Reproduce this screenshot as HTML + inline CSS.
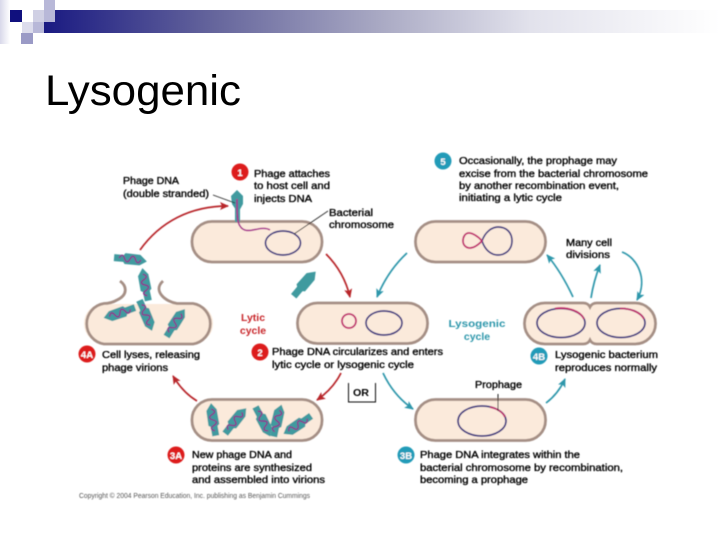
<!DOCTYPE html>
<html><head><meta charset="utf-8"><title>Lysogenic</title>
<style>
html,body{margin:0;padding:0;background:#fff;width:720px;height:540px;overflow:hidden}
svg{display:block}
text{font-family:"Liberation Sans",sans-serif}
.t text{font-size:10.5px;fill:#000;stroke:#000;stroke-width:.36}
</style></head>
<body>
<svg width="720" height="540" viewBox="0 0 720 540" xmlns="http://www.w3.org/2000/svg">
<defs>
<linearGradient id="bar" x1="0" x2="1" y1="0" y2="0">
<stop offset="0" stop-color="#1a1a82"/><stop offset=".25" stop-color="#65659c"/><stop offset=".5" stop-color="#aaaac4"/><stop offset=".72" stop-color="#e2e2ec"/><stop offset="1" stop-color="#ffffff"/>
</linearGradient>
<linearGradient id="pale" x1="0" x2="1" y1="0" y2="0"><stop offset="0" stop-color="#d8d8ea"/><stop offset="1" stop-color="#ffffff"/></linearGradient>
<filter id="soft" x="-2%" y="-2%" width="104%" height="104%"><feGaussianBlur stdDeviation=".4"/></filter>
<g id="ph">
<path d="M-3.500 2 L3.500 2 L3.500 16 L-3.500 16Z" fill="#3f9a9f"/>
<path d="M1 -17 L5.500 -10 L5.500 5 L0 9 L-5.500 5 L-5 -10Z" fill="#3f9a9f"/>
</g>
<path id="sq" d="M0 -11 q6 3 0 5.500 q-6 2.500 0 5.500 q6 2.500 0 5.500 q-6 2.500 0 5.500" fill="none" stroke="#8e2a8e" stroke-width="1.400"/>
<marker id="r" markerWidth="10" markerHeight="9" refX="8" refY="4" orient="auto" markerUnits="userSpaceOnUse"><path d="M0 0 L9 4 L0 8 L2 4Z" fill="#b8262c"/></marker>
<marker id="b" markerWidth="10" markerHeight="9" refX="8" refY="4" orient="auto" markerUnits="userSpaceOnUse"><path d="M0 0 L9 4 L0 8 L2 4Z" fill="#2f97ab"/></marker>
</defs>

<!-- header -->
<rect x="0" y="0" width="10" height="44" fill="url(#pale)"/>
<rect x="44" y="10" width="676" height="23" fill="url(#bar)"/>
<rect x="10" y="10" width="12" height="12" fill="#10107e"/>
<rect x="33" y="10" width="11" height="12" fill="#d0d0e4"/>
<rect x="44" y="0" width="11" height="22" fill="#b8b8d8"/>
<rect x="22" y="22" width="11" height="11" fill="#dcdcec"/>
<rect x="33" y="22" width="11" height="11" fill="#b8b8d8"/>
<rect x="21" y="33" width="12" height="11" fill="#9a9ac6"/>
<text x="45" y="105" font-size="42.500" fill="#000" textLength="196" lengthAdjust="spacingAndGlyphs">Lysogenic</text>

<g filter="url(#soft)">
<!-- cells -->
<g fill="#fbeadb" stroke="#a58f85" stroke-width="2.800">
<rect x="192" y="221.500" width="130" height="40.500" rx="20"/>
<rect x="415.500" y="221.500" width="130" height="40.500" rx="20"/>
<rect x="297.500" y="303" width="130" height="40.500" rx="20"/>
<rect x="192" y="399.500" width="130" height="41" rx="20"/>
<rect x="415.500" y="399.500" width="130" height="41" rx="20"/>
<path d="M545 303 L583 303 Q588 303 590 307 Q592 303 597 303 L635 303 A20.500 20.500 0 0 1 635 344 L597 344 Q592 344 590 340 Q588 344 583 344 L545 344 A20.500 20.500 0 0 1 545 303Z"/>
</g>
<rect x="84" y="304" width="129" height="39" rx="19" fill="#fbeadb"/>
<path d="M120 281 C127 286,128 295,117 300 C112 303,108 303.500,104 303.500 A20.500 20.500 0 0 0 104 344 L193 344 A20.500 20.500 0 0 0 193 303.500 L177 303.500 C166 302,152 291,163 281" fill="none" stroke="#a58f85" stroke-width="2.800"/>

<!-- chromosomes -->
<g fill="none" stroke="#3c3580" stroke-width="1.700">
<ellipse cx="283" cy="243" rx="17.500" ry="12"/>
<ellipse cx="384" cy="323" rx="18" ry="12"/>
<path d="M482 241 C485 232,492 227,498 227 C507 227,512 233,512 241 C512 250,505 255,498 255 C491 255,485 250,482 241Z"/>
<ellipse cx="561" cy="323" rx="24" ry="14.500"/>
<ellipse cx="621" cy="323" rx="24" ry="14.500"/>
<ellipse cx="482" cy="421" rx="24" ry="15"/>
</g>
<g fill="none" stroke="#c0246e" stroke-width="1.800">
<circle cx="349" cy="321" r="7"/>
<path d="M482 241 C478 236,472 233,469 233 C465 233,463 237,463 241 C463 245,466 248,470 248 C474 248,478 245,482 241"/>
<path d="M555 308.500 A24 14.500 0 0 1 584 319"/>
<path d="M620 308.500 A24 14.500 0 0 1 644 319"/>
<path d="M490 407 A24 15 0 0 1 505 417"/>
</g>
<path d="M498 394 L498 411" stroke="#222" stroke-width="1" fill="none"/>

<!-- attached phage -->
<path d="M235 208 h5 v14 h-5z" fill="#3f9a9f"/>
<path d="M237 190 L243 196 L243 204 L238 213 L232 204 L231 196Z" fill="#3f9a9f"/>
<path d="M237 199 C237 212,237 222,240 226 C244 233,252 230,258 229 C263 228,267 228,270 230" fill="none" stroke="#a8288e" stroke-width="1.600"/>

<!-- free phages -->
<g transform="translate(130 259) rotate(95)"><use href="#ph"/><use href="#sq"/></g>
<g transform="translate(145 285) rotate(-12)"><use href="#ph"/><use href="#sq"/></g>
<g transform="translate(120 313) rotate(-110)"><use href="#ph"/><use href="#sq"/></g>
<g transform="translate(146 315) rotate(156)"><use href="#ph"/><use href="#sq"/></g>
<g transform="translate(175 323) rotate(32)"><use href="#ph"/><use href="#sq"/></g>
<g transform="translate(304 284) rotate(40)"><use href="#ph"/></g>
<g transform="translate(213 420) rotate(-10)"><use href="#ph"/><use href="#sq"/></g>
<g transform="translate(235 421) rotate(38)"><use href="#ph"/><use href="#sq"/></g>
<g transform="translate(263 421) rotate(152)"><use href="#ph"/><use href="#sq"/></g>
<g transform="translate(277 421) rotate(12)"><use href="#ph"/><use href="#sq"/></g>
<g transform="translate(298 425) rotate(-125)"><use href="#ph"/><use href="#sq"/></g>

<!-- arrows -->
<g fill="none" stroke="#b8262c" stroke-width="1.700">
<path d="M140 250 C160 222,190 206,228 206" marker-end="url(#r)"/>
<path d="M326 254 C338 266,346 280,350 297" marker-end="url(#r)"/>
<path d="M197 401 C187 395,179 386,173 376" marker-end="url(#r)"/>
<path d="M341 373 C335 385,327 393,317 400" marker-end="url(#r)"/>
</g>
<g fill="none" stroke="#2f97ab" stroke-width="1.700">
<path d="M407 253 C393 266,384 280,377 297" marker-end="url(#b)"/>
<path d="M573 297 C566 282,558 268,547 255" marker-end="url(#b)"/>
<path d="M591 298 C593 285,596 275,600 265" marker-end="url(#b)"/>
<path d="M622 252 C638 258,648 280,637 300" marker-end="url(#b)"/>
<path d="M383 373 C390 388,400 400,413 409" marker-end="url(#b)"/>
<path d="M546 403 C554 397,560 390,565 379" marker-end="url(#b)"/>
</g>

<!-- pointers -->
<path d="M213 195 L235 203" stroke="#222" stroke-width=".8" fill="none"/>
<path d="M328 211 L294 234" stroke="#222" stroke-width=".8" fill="none"/>

<!-- OR -->
<path d="M348.500 383 V402 H375.500 V383" fill="none" stroke="#111" stroke-width="1"/>
<text x="353" y="396" font-size="10" font-weight="bold" fill="#000" textLength="16" lengthAdjust="spacingAndGlyphs">OR</text>

<!-- badges -->
<g fill="#dd1f1f">
<circle cx="240" cy="172" r="8.500"/><circle cx="87" cy="354" r="8.500"/><circle cx="260" cy="352" r="8.500"/><circle cx="176" cy="455" r="8.500"/>
</g>
<g fill="#239bb8">
<circle cx="443" cy="161" r="8.500"/><circle cx="539" cy="356" r="8.500"/><circle cx="406" cy="455" r="8.500"/>
</g>
<g fill="#fff" font-size="9.500" font-weight="bold" text-anchor="middle">
<text x="240" y="176">1</text><text x="87" y="358">4A</text><text x="260" y="356">2</text><text x="176" y="459">3A</text>
<text x="443" y="165">5</text><text x="539" y="360">4B</text><text x="406" y="459">3B</text>
</g>

<!-- labels -->
<g class="t">
<text x="123" y="184" textLength="56" lengthAdjust="spacingAndGlyphs">Phage DNA</text>
<text x="123" y="197" textLength="86" lengthAdjust="spacingAndGlyphs">(double stranded)</text>
<text x="254" y="177" textLength="76" lengthAdjust="spacingAndGlyphs">Phage attaches</text>
<text x="254" y="189" textLength="76" lengthAdjust="spacingAndGlyphs">to host cell and</text>
<text x="254" y="202" textLength="58" lengthAdjust="spacingAndGlyphs">injects DNA</text>
<text x="329" y="216" textLength="44" lengthAdjust="spacingAndGlyphs">Bacterial</text>
<text x="329" y="228" textLength="65" lengthAdjust="spacingAndGlyphs">chromosome</text>
<text x="459" y="164" textLength="158" lengthAdjust="spacingAndGlyphs">Occasionally, the prophage may</text>
<text x="459" y="177" textLength="189" lengthAdjust="spacingAndGlyphs">excise from the bacterial chromosome</text>
<text x="459" y="189" textLength="160" lengthAdjust="spacingAndGlyphs">by another recombination event,</text>
<text x="459" y="201" textLength="103" lengthAdjust="spacingAndGlyphs">initiating a lytic cycle</text>
<text x="566" y="246" textLength="46" lengthAdjust="spacingAndGlyphs">Many cell</text>
<text x="566" y="258" textLength="44" lengthAdjust="spacingAndGlyphs">divisions</text>
<text x="102" y="358" textLength="98" lengthAdjust="spacingAndGlyphs">Cell lyses, releasing</text>
<text x="102" y="371" textLength="66" lengthAdjust="spacingAndGlyphs">phage virions</text>
<text x="272" y="355" textLength="171" lengthAdjust="spacingAndGlyphs">Phage DNA circularizes and enters</text>
<text x="272" y="368" textLength="142" lengthAdjust="spacingAndGlyphs">lytic cycle or lysogenic cycle</text>
<text x="555" y="358" textLength="103" lengthAdjust="spacingAndGlyphs">Lysogenic bacterium</text>
<text x="555" y="371" textLength="102" lengthAdjust="spacingAndGlyphs">reproduces normally</text>
<text x="475" y="388" textLength="47" lengthAdjust="spacingAndGlyphs">Prophage</text>
<text x="192" y="458" textLength="100" lengthAdjust="spacingAndGlyphs">New phage DNA and</text>
<text x="192" y="471" textLength="120" lengthAdjust="spacingAndGlyphs">proteins are synthesized</text>
<text x="192" y="483" textLength="133" lengthAdjust="spacingAndGlyphs">and assembled into virions</text>
<text x="420" y="458" textLength="160" lengthAdjust="spacingAndGlyphs">Phage DNA integrates within the</text>
<text x="420" y="471" textLength="203" lengthAdjust="spacingAndGlyphs">bacterial chromosome by recombination,</text>
<text x="420" y="483" textLength="108" lengthAdjust="spacingAndGlyphs">becoming a prophage</text>
</g>
<g font-size="10.500" font-weight="bold" text-anchor="middle" fill="#c8282c">
<text x="253" y="321">Lytic</text><text x="253" y="334">cycle</text>
</g>
<g font-size="10.500" font-weight="bold" text-anchor="middle" fill="#2f97ab">
<text x="477" y="327" textLength="57" lengthAdjust="spacingAndGlyphs">Lysogenic</text><text x="477" y="340">cycle</text>
</g>
<text x="79" y="498" font-size="7" fill="#555" textLength="231" lengthAdjust="spacingAndGlyphs">Copyright © 2004 Pearson Education, Inc. publishing as Benjamin Cummings</text>
</g>
</svg>
</body></html>
